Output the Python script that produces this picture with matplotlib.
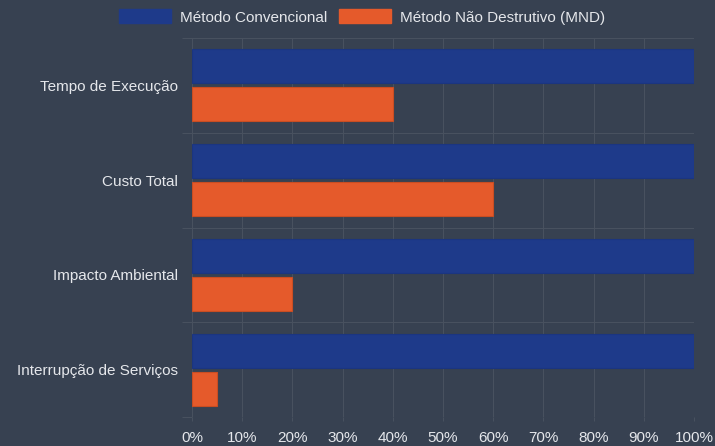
import matplotlib.pyplot as plt
from matplotlib.patches import Patch

categories = ["Tempo de Execução", "Custo Total", "Impacto Ambiental", "Interrupção de Serviços"]
convencional = [100, 100, 100, 100]
mnd = [40, 60, 20, 5]
series_names = ["Método Convencional", "Método Não Destrutivo (MND)"]
x_ticks = list(range(0, 101, 10))

BG = "#374151"
GRID = "#48515f"
TEXT = "#e5e7eb"
BLUE = "#1e3a8a"
ORANGE = "#e55a2b"

plt.rcParams["font.family"] = ["Liberation Sans", "DejaVu Sans"]
plt.rcParams["font.size"] = 11

fig = plt.figure(figsize=(7.15, 4.46), dpi=100, facecolor=BG)
ax = fig.add_axes([192 / 715, 29 / 446, 502 / 715, 379 / 446], facecolor=BG)

ys = list(range(len(categories)))
ax.barh([y - 0.2 for y in ys], convencional, height=0.36, color=BLUE,
        edgecolor="#1b3580", linewidth=0.8, zorder=3)
ax.barh([y + 0.2 for y in ys], mnd, height=0.36, color=ORANGE,
        edgecolor="#c94d22", linewidth=0.8, zorder=3)

ax.set_xlim(0, 100)
ax.set_ylim(len(categories) - 0.5, -0.5)

# y axis: boundaries as major ticks (grid), labels on minor ticks
ax.set_yticks([y - 0.5 for y in range(len(categories) + 1)])
ax.set_yticklabels([])
ax.set_yticks(ys, minor=True)
ax.set_yticklabels(categories, minor=True)
ax.tick_params(axis="y", which="major", length=7.2, color=GRID, width=0.8)
ax.tick_params(axis="y", which="minor", length=0, pad=10, labelcolor=TEXT)

ax.set_xticks(x_ticks)
ax.set_xticklabels([f"{t}%" for t in x_ticks])
ax.tick_params(axis="x", length=3, color=GRID, width=0.8, pad=7, labelcolor=TEXT)

ax.grid(True, which="major", color=GRID, linewidth=0.8, zorder=0)
for s in ax.spines.values():
    s.set_visible(False)

handles = [Patch(facecolor=BLUE, edgecolor=BLUE), Patch(facecolor=ORANGE, edgecolor=ORANGE)]
leg = fig.legend(handles, series_names, loc="center", bbox_to_anchor=(362 / 715, 1 - 17 / 446),
                 ncol=2, frameon=False, handlelength=3.4, handleheight=1.0,
                 handletextpad=0.55, columnspacing=0.8, labelcolor=TEXT)

fig.savefig("out.png", dpi=100, facecolor=BG)
